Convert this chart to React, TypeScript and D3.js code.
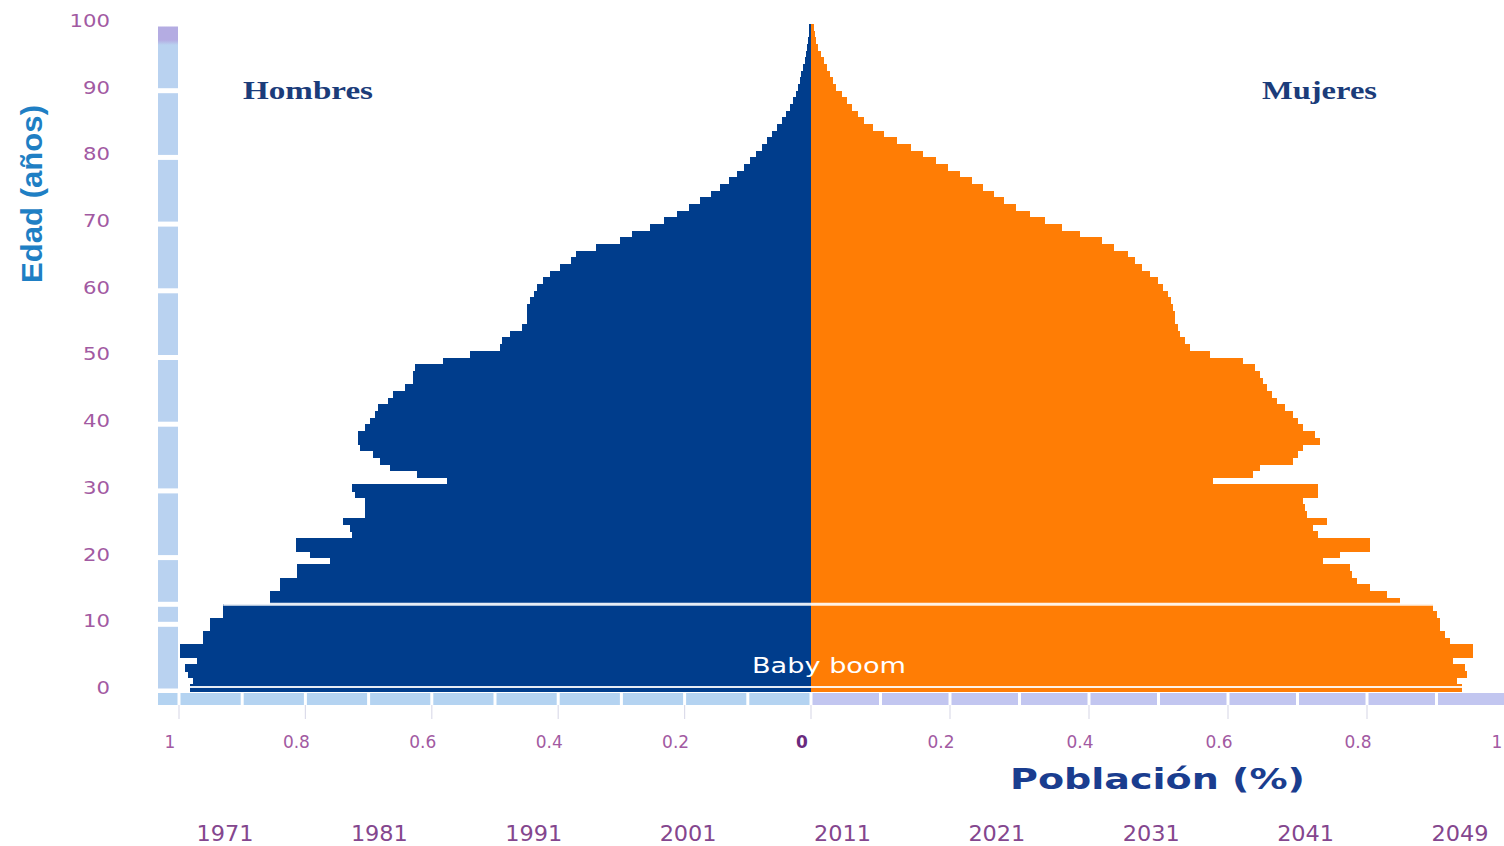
import React from "react";
import * as d3 from "d3";

// Age groups 0..99 (one bar per year of age)
const ages: number[] = d3.range(0, 100);

// Share of population (%) by single year of age, men (left side), ages 0 → 99
const hombres: number[] = [
  0.983, 0.978, 0.986, 0.991, 0.972, 0.998, 0.998, 0.962, 0.962, 0.951,
  0.951, 0.930, 0.930, 0.856, 0.856, 0.840, 0.840, 0.813, 0.813, 0.761,
  0.793, 0.815, 0.815, 0.726, 0.729, 0.741, 0.706, 0.706, 0.706, 0.722,
  0.726, 0.576, 0.623, 0.666, 0.682, 0.693, 0.714, 0.717, 0.717, 0.706,
  0.698, 0.690, 0.685, 0.669, 0.661, 0.642, 0.630, 0.630, 0.627, 0.582,
  0.540, 0.492, 0.489, 0.476, 0.457, 0.449, 0.449, 0.449, 0.445, 0.438,
  0.434, 0.424, 0.413, 0.397, 0.380, 0.372, 0.340, 0.302, 0.283, 0.255,
  0.233, 0.212, 0.193, 0.176, 0.158, 0.144, 0.130, 0.117, 0.106, 0.097,
  0.087, 0.078, 0.070, 0.062, 0.054, 0.046, 0.040, 0.033, 0.028, 0.024,
  0.021, 0.017, 0.016, 0.013, 0.009, 0.008, 0.006, 0.005, 0.003, 0.003,
];

// Women (right side), ages 0 → 99
const mujeres: number[] = [
  0.937, 0.929, 0.944, 0.941, 0.924, 0.953, 0.953, 0.919, 0.912, 0.905,
  0.905, 0.901, 0.895, 0.847, 0.829, 0.804, 0.786, 0.778, 0.776, 0.737,
  0.761, 0.804, 0.804, 0.729, 0.722, 0.742, 0.714, 0.711, 0.708, 0.729,
  0.729, 0.578, 0.636, 0.646, 0.694, 0.701, 0.708, 0.732, 0.725, 0.708,
  0.701, 0.694, 0.682, 0.671, 0.663, 0.656, 0.650, 0.646, 0.639, 0.622,
  0.574, 0.545, 0.538, 0.531, 0.528, 0.524, 0.524, 0.521, 0.518, 0.514,
  0.506, 0.499, 0.488, 0.476, 0.466, 0.456, 0.436, 0.419, 0.387, 0.361,
  0.337, 0.315, 0.295, 0.278, 0.263, 0.247, 0.232, 0.214, 0.197, 0.180,
  0.161, 0.144, 0.124, 0.105, 0.089, 0.076, 0.068, 0.059, 0.052, 0.045,
  0.036, 0.032, 0.027, 0.023, 0.019, 0.014, 0.010, 0.007, 0.006, 0.004,
];

const ageTicks: number[] = [0, 10, 20, 30, 40, 50, 60, 70, 80, 90, 100];
const ageStripBreaks: number[] = [0, 10, 13, 20, 30, 40, 50, 60, 70, 80, 90, 100];
const popTicks: number[] = [0, 0.2, 0.4, 0.6, 0.8, 1];
const popStripBreaks: number[] = d3.range(0, 11).map((k) => k / 10);
const timelineYears: string[] = ["1971", "1981", "1991", "2001", "2011", "2021", "2031", "2041", "2049"];
const markerAges: number[] = [13, 0.6];

const W = 1504;
const H = 846;
const BLUE = "#003d8c";
const ORANGE = "#ff7d05";
const TICK_COLOR = "#a25aa2";
const YEAR_COLOR = "#84468e";

export default function App() {
  const y = d3.scaleLinear().domain([0, 100]).range([691, 24]);
  const xL = d3.scaleLinear().domain([0, 1]).range([811, 179]);
  const xR = d3.scaleLinear().domain([0, 1]).range([811, 1506]);
  const yearX = d3.scalePoint<string>().domain(timelineYears).range([225, 1460]);

  const stripX0 = 158;
  const stripTop = 693;
  const stripH = 12;

  const vSegs = d3.pairs(ageStripBreaks).map(([a, b]) => ({ y0: y(b) + 2.5, y1: y(a) - 2.5, top: b === 100 }));
  const leftSegs = d3.pairs(popStripBreaks).map(([a, b]) => ({ x0: xL(b) + 1.5, x1: xL(a) - 1.5 }));
  leftSegs.push({ x0: stripX0, x1: xL(1) - 1.5 });
  const rightSegs = d3.pairs(popStripBreaks).map(([a, b]) => ({ x0: xR(a) + 1.5, x1: Math.min(xR(b) - 1.5, W) }));

  return (
    <svg width={W} height={H} style={{ position: "absolute", left: 0, top: 0, background: "#fff" }}>
      <defs>
        <linearGradient id="topSeg" x1="0" y1="0" x2="0" y2="1">
          <stop offset="0" stopColor="#b4ace2" />
          <stop offset="0.22" stopColor="#b4ace2" />
          <stop offset="0.3" stopColor="#b9d2f0" />
          <stop offset="1" stopColor="#b9d2f0" />
        </linearGradient>
      </defs>

      {/* vertical age strip */}
      {vSegs.map((s, i) => (
        <rect key={"v" + i} x={stripX0} y={s.y0} width={20} height={s.y1 - s.y0}
          fill={s.top ? "url(#topSeg)" : "#b9d2f0"} />
      ))}

      {/* horizontal population strip */}
      {leftSegs.map((s, i) => (
        <rect key={"hl" + i} x={s.x0} y={stripTop} width={Math.max(0, s.x1 - s.x0)} height={stripH} fill="#b4d3f1" />
      ))}
      {rightSegs.map((s, i) => (
        <rect key={"hr" + i} x={s.x0} y={stripTop} width={Math.max(0, s.x1 - s.x0)} height={stripH} fill="#c2c6f0" />
      ))}

      {/* tick lines below strip */}
      {popTicks.map((v) => (
        <line key={"tl" + v} x1={xL(v)} x2={xL(v)} y1={stripTop + stripH} y2={stripTop + stripH + 14} stroke="#dcdcea" strokeWidth={1.2} />
      ))}
      {popTicks.filter((v) => v > 0).map((v) => (
        <line key={"tr" + v} x1={xR(v)} x2={xR(v)} y1={stripTop + stripH} y2={stripTop + stripH + 14} stroke="#dcdcea" strokeWidth={1.2} />
      ))}

      {/* pyramid bars */}
      <g shapeRendering="crispEdges">
        {ages.map((a) => (
          <rect key={"m" + a} x={xL(hombres[a])} y={y(a + 1)} width={xL(0) - xL(hombres[a])}
            height={y(a) - y(a + 1) + 0.6} fill={BLUE} />
        ))}
        {ages.map((a) => (
          <rect key={"f" + a} x={xR(0)} y={y(a + 1)} width={xR(mujeres[a]) - xR(0)}
            height={y(a) - y(a + 1) + 0.6} fill={ORANGE} />
        ))}
      </g>

      {/* thin white separators */}
      {markerAges.map((m, i) => {
        const idx = Math.max(0, Math.floor(m) - 1);
        return (
          <line key={"mk" + i} x1={xL(hombres[idx])} x2={xR(mujeres[idx])} y1={y(m)} y2={y(m)}
            stroke="#ffffff" strokeOpacity={0.9} strokeWidth={i === 0 ? 3 : 2} />
        );
      })}

      {/* age tick labels */}
      {ageTicks.map((t) => {
        const s = String(t);
        return (
          <text key={"ay" + t} x={110} y={y(t) - 3} dy="0.35em" textAnchor="end" fill={TICK_COLOR}
            fontFamily="DejaVu Sans, sans-serif" fontSize={17} textLength={s.length * 13.5} lengthAdjust="spacingAndGlyphs">
            {s}
          </text>
        );
      })}

      {/* population tick labels */}
      {popTicks.map((v) => (
        <text key={"pl" + v} x={xL(v) - 9} y={742} dy="0.35em" textAnchor="middle"
          fill={v === 0 ? "#6a2a7e" : TICK_COLOR} fontWeight={v === 0 ? "bold" : "normal"}
          fontFamily="DejaVu Sans, sans-serif" fontSize={17}>
          {String(v)}
        </text>
      ))}
      {popTicks.filter((v) => v > 0).map((v) => (
        <text key={"pr" + v} x={xR(v) - 9} y={742} dy="0.35em" textAnchor="middle" fill={TICK_COLOR}
          fontFamily="DejaVu Sans, sans-serif" fontSize={17}>
          {String(v)}
        </text>
      ))}

      {/* timeline years */}
      {timelineYears.map((yr) => (
        <text key={yr} x={yearX(yr)} y={841} textAnchor="middle" fill={YEAR_COLOR}
          fontFamily="DejaVu Sans, sans-serif" fontSize={21} textLength={57} lengthAdjust="spacingAndGlyphs">
          {yr}
        </text>
      ))}

      {/* titles */}
      <text x={243} y={99} fill="#1b3c7a" fontFamily="Liberation Serif, DejaVu Serif, serif" fontWeight="bold"
        fontSize={26} textLength={130} lengthAdjust="spacingAndGlyphs">Hombres</text>
      <text x={1262} y={99} fill="#1b3c7a" fontFamily="Liberation Serif, DejaVu Serif, serif" fontWeight="bold"
        fontSize={26} textLength={115} lengthAdjust="spacingAndGlyphs">Mujeres</text>

      <text transform={`translate(42,194) rotate(-90)`} textAnchor="middle" fill="#1f7fc4"
        fontFamily="Liberation Sans Narrow, Liberation Sans, sans-serif" fontWeight="bold" fontSize={29}
        textLength={178} lengthAdjust="spacingAndGlyphs">Edad (años)</text>

      <text x={1010} y={779} dy="0.35em" fill="#1a3d8f" fontFamily="DejaVu Sans, sans-serif" fontWeight="bold"
        fontSize={28} textLength={295} lengthAdjust="spacingAndGlyphs">Población (%)</text>

      <text x={752} y={666} dy="0.35em" fill="#ffffff" fontFamily="DejaVu Sans, sans-serif"
        fontSize={21} textLength={154} lengthAdjust="spacingAndGlyphs">Baby boom</text>
    </svg>
  );
}
